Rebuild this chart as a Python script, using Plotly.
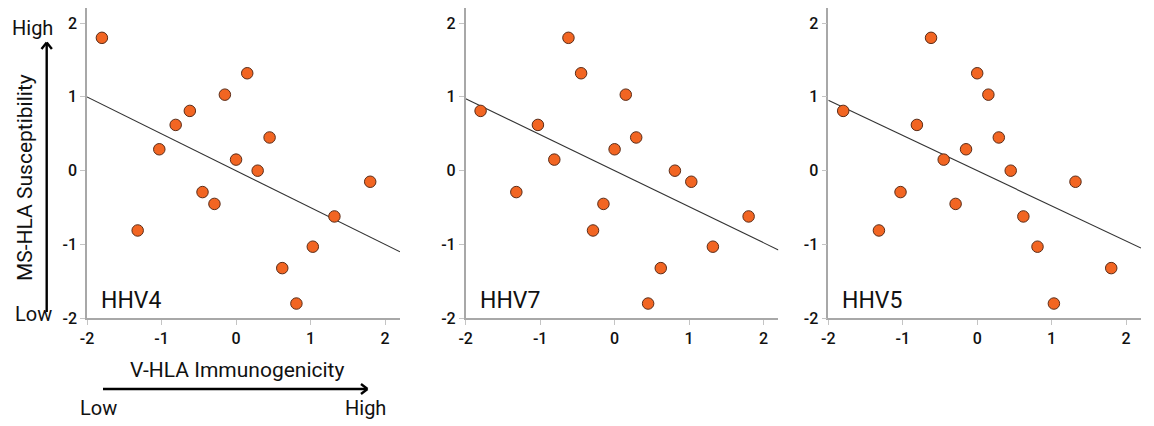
import numpy as np
import plotly.graph_objects as go

# Rank-normalised scores per virus panel
panels = ["HHV4", "HHV7", "HHV5"]

hhv4_x = [-1.80, -1.32, -1.03, -0.81, -0.62, -0.45, -0.29, -0.15, 0.00, 0.15, 0.29, 0.45, 0.62, 0.81, 1.03, 1.32, 1.80]
hhv4_y = [1.80, -0.81, 0.29, 0.62, 0.81, -0.29, -0.45, 1.03, 0.15, 1.32, 0.00, 0.45, -1.32, -1.80, -1.03, -0.62, -0.15]

hhv7_x = [-1.80, -1.32, -1.03, -0.81, -0.62, -0.45, -0.29, -0.15, 0.00, 0.15, 0.29, 0.45, 0.62, 0.81, 1.03, 1.32, 1.80]
hhv7_y = [0.81, -0.29, 0.62, 0.15, 1.80, 1.32, -0.81, -0.45, 0.29, 1.03, 0.45, -1.80, -1.32, 0.00, -0.15, -1.03, -0.62]

hhv5_x = [-1.80, -1.32, -1.03, -0.81, -0.62, -0.45, -0.29, -0.15, 0.00, 0.15, 0.29, 0.45, 0.62, 0.81, 1.03, 1.32, 1.80]
hhv5_y = [0.81, -0.81, -0.29, 0.62, 1.80, 0.15, -0.45, 0.29, 1.32, 1.03, 0.45, 0.00, -0.62, -1.03, -1.80, -0.15, -1.32]

tick_vals = [-2, -1, 0, 1, 2]
tick_text = ["-2", "-1", "0", "1", "2"]

W, H = 1154, 426
FONT = "Roboto"
ORANGE = "#F26522"
EDGE = "#5a2c18"

x_domains = [(87, 400), (465.7, 778.4), (828.3, 1141)]
y_top, y_bot = 8.3, 318.3
x_range = [-2, 2.2]
y_range = [-2, 2.2]


def px(x):
    return x / W


def py(y):
    return 1 - y / H


series = [(hhv4_x, hhv4_y), (hhv7_x, hhv7_y), (hhv5_x, hhv5_y)]

fig = go.Figure()
annotations = []

for i, (name, (xs, ys)) in enumerate(zip(panels, series)):
    sfx = "" if i == 0 else str(i + 1)
    xa, ya = "x" + sfx, "y" + sfx

    # least-squares trend line across the whole x range
    slope, icpt = np.polyfit(xs, ys, 1)
    lx = np.array(x_range)
    fig.add_trace(go.Scatter(
        x=lx, y=slope * lx + icpt, mode="lines",
        line=dict(color="#333333", width=1.1),
        xaxis=xa, yaxis=ya, showlegend=False, hoverinfo="skip", cliponaxis=False,
    ))
    fig.add_trace(go.Scatter(
        x=xs, y=ys, mode="markers",
        marker=dict(size=11.5, color=ORANGE, line=dict(color=EDGE, width=1)),
        xaxis=xa, yaxis=ya, showlegend=False, cliponaxis=False,
    ))

    d0, d1 = x_domains[i]
    axis_style = dict(
        showgrid=False, zeroline=False, showline=True, automargin=False,
        linecolor="#a8a8a8", linewidth=1.6,
        ticks="outside", ticklen=5, tickcolor="#c4c4c4", tickwidth=1.2,
        tickvals=tick_vals, ticktext=tick_text,
        tickfont=dict(family=FONT, size=16, color="#111111", weight=500),
    )
    fig.layout["xaxis" + sfx] = dict(
        domain=[px(d0), px(d1)], range=x_range, anchor=ya,
        **axis_style,
    )
    fig.layout["yaxis" + sfx] = dict(
        domain=[py(y_bot), py(y_top)], range=y_range, anchor=xa,
        **axis_style,
    )

    # panel label in the lower-left corner
    annotations.append(dict(
        text=name, x=-1.84, y=-1.76, xref=xa, yref=ya,
        xanchor="left", yanchor="middle", showarrow=False,
        font=dict(family=FONT, size=23, color="#111111", weight=400),
    ))

text_font = dict(family=FONT, size=20, color="#111111", weight=400)
title_font = dict(family=FONT, size=21, color="#111111", weight=400)

# axis titles and Low/High endpoints
annotations += [
    dict(text="MS-HLA Susceptibility", x=px(25), y=py(178), textangle=-90,
         xref="paper", yref="paper", showarrow=False, font=title_font,
         xanchor="center", yanchor="middle"),
    dict(text="High", x=px(32), y=py(28), xref="paper", yref="paper",
         showarrow=False, font=text_font, xanchor="center", yanchor="middle"),
    dict(text="Low", x=px(33), y=py(314), xref="paper", yref="paper",
         showarrow=False, font=text_font, xanchor="center", yanchor="middle"),
    dict(text="V-HLA Immunogenicity", x=px(237), y=py(370), xref="paper", yref="paper",
         showarrow=False, font=title_font, xanchor="center", yanchor="middle"),
    dict(text="Low", x=px(98), y=py(408), xref="paper", yref="paper",
         showarrow=False, font=text_font, xanchor="center", yanchor="middle"),
    dict(text="High", x=px(365), y=py(408), xref="paper", yref="paper",
         showarrow=False, font=text_font, xanchor="center", yanchor="middle"),
]

# direction arrows drawn as line shapes
arrow = dict(color="#000000", width=2.4)
shapes = []


def seg(x0, y0, x1, y1):
    shapes.append(dict(type="line", xref="paper", yref="paper",
                       x0=px(x0), y0=py(y0), x1=px(x1), y1=py(y1), line=arrow))


seg(46.7, 312, 46.7, 43)
seg(41.5, 49, 46.7, 42.5)
seg(51.9, 49, 46.7, 42.5)
seg(103, 389, 367, 389)
seg(361, 384, 367.5, 389)
seg(361, 394, 367.5, 389)

fig.update_layout(
    width=W, height=H,
    margin=dict(l=0, r=0, t=0, b=0),
    paper_bgcolor="white", plot_bgcolor="white",
    annotations=annotations, shapes=shapes,
    font=dict(family=FONT),
)

fig.write_html("out.html")
